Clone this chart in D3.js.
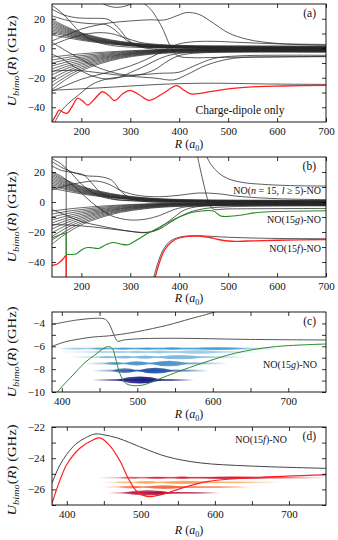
<!DOCTYPE html>
<html><head><meta charset="utf-8">
<script src="https://cdn.jsdelivr.net/npm/d3@7"></script>
<style>body{margin:0;background:#fff}svg{display:block}</style>
</head><body>
<svg id="chart" width="338" height="540"></svg>
<script>
// ================= DATA =================
const xTicksAB = [200,300,400,500,600,700];
const yTicksAB = [-40,-30,-20,-10,0,10,20];
const yLabelsAB = [-40,-20,0,20];
const xTicksCD = [400,450,500,550,600,650,700];
const xLabelsCD = [400,500,600,700];
const yTicksC = [-10,-9,-8,-7,-6,-5,-4];
const yLabelsC = [-10,-8,-6,-4];
const yTicksD = [-27,-26,-25,-24,-23,-22];
const yLabelsD = [-26,-24,-22];

// shared R grid for the converging bundles
const bundleR = [140,170,200,240,280,330,380,450,550,700];
const bundleUpper = [
 [19.5,14.5,10.5,7,4.6,2.8,1.9,1.4,1.2,1.1],
 [18.5,13.8,10,6.6,4.3,2.6,1.7,1.2,1.0,0.9],
 [17.5,13.1,9.5,6.2,4.0,2.4,1.5,1.0,0.8,0.7],
 [16.5,12.4,9,5.8,3.7,2.2,1.3,0.85,0.65,0.55],
 [15.5,11.7,8.5,5.5,3.4,2.0,1.15,0.7,0.5,0.4],
 [14.5,11,8,5.2,3.2,1.8,1.0,0.55,0.35,0.25],
 [13.5,10.3,7.5,4.9,3.0,1.6,0.85,0.4,0.2,0.1],
 [12.5,9.6,7,4.6,2.8,1.45,0.7,0.3,0.1,0],
 [11.5,8.9,6.5,4.3,2.6,1.3,0.6,0.2,0,-0.1],
 [10.5,8.2,6,4,2.4,1.15,0.5,0.1,-0.1,-0.2],
 [9,7.2,5.4,3.6,2.2,1.0,0.4,0,-0.2,-0.3]
];
const bundleLower = [
 [-6,-4.8,-3.8,-2.8,-2.0,-1.3,-0.9,-0.6,-0.5,-0.45],
 [-8,-6.3,-5,-3.6,-2.5,-1.6,-1.1,-0.8,-0.7,-0.6],
 [-10,-7.8,-6.1,-4.4,-3.0,-1.9,-1.3,-1.0,-0.85,-0.8],
 [-12,-9.3,-7.2,-5.1,-3.5,-2.2,-1.5,-1.15,-1.0,-0.95],
 [-14,-10.8,-8.3,-5.8,-4.0,-2.5,-1.7,-1.3,-1.15,-1.1],
 [-16,-12.3,-9.4,-6.5,-4.4,-2.8,-1.9,-1.45,-1.3,-1.25],
 [-18,-13.8,-10.5,-7.2,-4.8,-3.1,-2.1,-1.6,-1.45,-1.4],
 [-20.5,-15.5,-11.6,-7.9,-5.3,-3.4,-2.3,-1.8,-1.6,-1.55],
 [-23,-17.2,-12.8,-8.7,-5.8,-3.7,-2.6,-2.0,-1.8,-1.75],
 [-25.5,-19,-14,-9.5,-6.3,-4.1,-2.9,-2.3,-2.1,-2.0],
 [-28,-20.8,-15.2,-10.3,-6.9,-4.5,-3.2,-2.6,-2.4,-2.3]
];

const specialsA = [
 [[140,5],[170,9],[200,13],[230,15.5],[260,17.3],[300,18.5],[340,19.3],[370,19.2],[395,22],[415,24.2],[440,23],[470,17],[500,10.5],[540,6],[600,3.3],[700,2]],
 [[140,29],[160,24],[180,17],[200,10],[230,4.5],[260,2],[300,0.8],[400,0.2],[700,0]],
 [[140,22],[170,19],[200,17.2],[230,16.5],[250,16],[270,12],[290,6],[310,2.2],[340,0.6],[400,0.1],[700,-0.1]],
 [[140,26.5],[165,22.5],[195,20.5],[225,20.3],[255,19.5],[275,14],[295,6],[315,1.5],[350,-0.6],[420,-1.2],[700,-1.4]],
 [[240,31],[252,29],[270,27.7],[288,28.4],[302,30],[310,31]],
 [[325,31],[340,27],[355,20],[368,12],[378,4],[388,-2.5],[400,-5.5],[425,-6.4],[480,-6.2],[600,-5.8],[700,-5.7]],
 [[140,4],[170,-2],[200,-7.5],[230,-12.5],[260,-16],[290,-18],[320,-17.8],[350,-14.5],[375,-9],[400,-5],[440,-3.2],[700,-2.8]],
 [[140,-4],[165,-8],[190,-13.5],[220,-18.5],[250,-20.8],[275,-20],[300,-16.5],[330,-12],[360,-7],[390,-4],[450,-2.6],[700,-2.2]],
 [[140,-29],[170,-25],[200,-21],[240,-17.5],[270,-15],[300,-12],[330,-8],[355,-4],[375,-0.5],[395,2.5],[425,4.3],[470,4.7],[520,4],[600,3],[700,2.6]],
 [[140,-15.5],[190,-15],[240,-16.8],[300,-19],[350,-20.2],[388,-21.5],[415,-18],[456,-11.4],[511,-6.8],[600,-5.9],[700,-5.6]],
 [[146,-50],[160,-42],[175,-37],[195,-31.5],[222,-24.5],[250,-21],[280,-19.5],[320,-18],[360,-17],[400,-16.2],[430,-12],[470,-7],[520,-5.2],[700,-4.8]],
 [[140,-28.5],[170,-28],[200,-27.5],[240,-26.8],[280,-26],[320,-25.2],[360,-24.5],[400,-24],[450,-23.7],[500,-23.8],[600,-24.3],[700,-24.5]],
 [[140,2],[170,6],[200,9],[230,10.5],[260,10],[290,7],[320,4],[360,2.5],[420,1.8],[550,1.6],[700,1.5]]
];
const redA = [[140,-50],[148,-45.5],[155,-42],[163,-43.5],[171,-44],[182,-39],[192,-34],[202,-35.5],[213,-38.5],[228,-34],[243,-29.5],[256,-32],[268,-35.5],[284,-31],[299,-28.5],[318,-31.5],[338,-35.3],[365,-31],[395,-25.4],[410,-28.5],[424,-31],[450,-30.2],[480,-28.5],[510,-27.2],[560,-26],[613,-25.6],[700,-25.1]];

const specialsB = [
 [[140,8],[170,11],[200,13],[230,14],[255,12],[285,7],[320,4.2],[360,3.5],[400,4.5],[440,6],[480,5.5],[520,3.8],[600,2.2],[700,1.6]],
 [[140,27],[160,23],[185,19.5],[210,17.5],[240,16.8],[262,14.5],[280,7.5],[300,2.5],[330,0.3],[400,-0.4],[700,-0.8]],
 [[140,29],[160,25],[180,19],[200,12],[230,5],[260,2],[300,1],[700,0.3]],
 [[140,24],[160,21],[185,19.5],[205,18],[220,13],[240,6],[260,2.5],[300,0.8],[700,0]],
 [[140,-5],[170,-9],[200,-13],[240,-16],[280,-18.5],[310,-20],[340,-20],[360,-18],[380,-14],[400,-10],[420,-7],[450,-4.5],[500,-3.2],[700,-2.6]],
 [[140,-15],[180,-15.5],[220,-16.5],[260,-18],[300,-19.5],[330,-20.5],[350,-19],[370,-15],[390,-10],[410,-5.5],[440,-3],[700,-2.2]],
 [[140,20],[160,17],[180,12],[200,6],[220,0],[240,-5],[260,-9],[280,-11],[300,-12],[330,-11.5],[360,-9],[390,-5],[420,-3],[700,-1.8]],
 [[437,31],[443,22],[450,12],[457,3],[463,-2.5],[470,-4.8],[500,-4.6],[700,-4.3]],
 [[455,31],[465,25],[480,19.5],[500,15.5],[530,13],[570,11.8],[620,11],[700,10.6]],
 [[169,30],[169,-50]],
 [[348,-50],[357,-40],[367,-32],[382,-26],[400,-23.5],[420,-22.6],[435,-22.4],[460,-22.8],[500,-23.5],[550,-24],[600,-24.3],[700,-24.5]]
];
const greenB = [
 [[140,-24],[155,-22],[169,-20.5]],
 [[169,-20.5],[169,-35]],
 [[169,-35],[180,-35],[190,-34.5],[200,-32],[210,-30.5],[222,-30.5],[235,-31],[250,-28.5],[265,-27],[280,-28],[295,-28.5],[310,-26],[330,-22],[350,-18.5],[375,-14],[400,-10],[425,-7],[450,-5.8],[470,-6],[485,-9.3],[500,-9.6],[525,-8.8],[560,-7],[600,-6.3],[700,-5.8]]
];
const redB = [
 [[140,-42.2],[150,-41.5],[158,-39.5],[165,-37],[169,-35.5]],
 [[169,-35.5],[169,-50]],
 [[351,-50],[360,-40],[370,-32],[385,-26.5],[400,-24],[420,-22.9],[440,-22.7],[460,-23.5],[480,-25],[500,-26],[515,-26.3],[540,-26],[600,-25.5],[700,-25]]
];

const grayC = [
 [[387,-4.1],[420,-3.7],[450,-3.55],[458,-3.65],[464,-4.2],[469,-5.0],[474,-5.55],[482,-5.45],[500,-5.35],[550,-5.3],[650,-5.4],[750,-5.45]],
 [[387,-6.0],[405,-5.6],[420,-5.4],[440,-5.2],[460,-5.1],[473,-5.0],[500,-4.72],[540,-4.15],[570,-3.6],[600,-3.05],[606,-2.9]]
];
const greenC = [[390,-10.3],[402,-9.4],[415,-8.5],[431,-7.4],[445,-6.7],[455,-6.2],[462,-6.02],[467,-6.2],[471,-7.0],[477,-8.4],[484,-9.2],[492,-9.42],[500,-9.45],[510,-9.35],[520,-9.1],[535,-8.7],[555,-8.2],[585,-7.5],[630,-6.6],[680,-6.05],[750,-5.8]];
const energiesC = [-8.95,-8.13,-7.5,-6.95,-6.5,-6.2];
const spansC = [[440,575],[440,595],[428,620],[410,645],[400,665],[390,690]];
const lobesC = [
 [[472,534,0.3]],
 [[466,500,0.2],[500,548,0.26]],
 [[455,482,0.13],[482,516,0.18],[516,568,0.24]],
 [[448,470,0.09],[470,495,0.12],[495,525,0.15],[525,588,0.19]],
 [[442,464,0.07],[464,488,0.09],[488,513,0.11],[513,546,0.13],[546,615,0.17]],
 [[398,432,0.08],[438,462,0.08],[468,494,0.08],[500,526,0.08],[532,562,0.09],[570,645,0.12]]
];
const colorsC = ["#1c1a85","#2355a6","#4a8fcb","#7db7de","#9ccbe6","#3d9bd2"];

const blackD = [[380,-25.6],[390,-24.5],[400,-23.75],[412,-23.1],[425,-22.7],[438,-22.45],[450,-22.5],[468,-22.7],[485,-23.0],[503,-23.35],[535,-23.9],[580,-24.3],[647,-24.5],[750,-24.65]];
const redD = [[380,-26.9],[390,-25.5],[400,-24.4],[418,-23.35],[436,-22.82],[445,-22.7],[458,-23.2],[472,-24.2],[483,-25.3],[494,-26.1],[508,-26.45],[526,-26.35],[553,-25.95],[589,-25.5],[652,-25.25],[750,-25.07]];
const energiesD = [-26.22,-25.85,-25.55,-25.25];
const spansD = [[455,607],[448,650],[445,690],[440,750]];
const lobesD = [
 [[472,545,0.17]],
 [[468,503,0.09],[503,560,0.12]],
 [[462,490,0.07],[490,524,0.09],[524,592,0.11]],
 [[470,500,0.06],[505,538,0.06],[544,568,0.07],[578,680,0.08]]
];
const colorsD = ["#b0103c","#f26a3e","#f9a552","#d51f36"];

// ================= DRAWING =================
const svg = d3.select("#chart");
const FONT = "'Liberation Serif','Times New Roman',serif";
const L = 52, RGT = 326;
const defs = svg.append("defs");
const fmt = v => (v < 0 ? "\u2212" + Math.abs(v) : "" + v);

function makePanel(o) {
  const x = d3.scaleLinear().domain(o.xd).range([L, RGT]);
  const y = d3.scaleLinear().domain(o.yd).range([o.bottom, o.top]);
  const g = svg.append("g");
  defs.append("clipPath").attr("id", "clip" + o.id).append("rect")
    .attr("x", L).attr("y", o.top).attr("width", RGT - L).attr("height", o.bottom - o.top);
  const plot = g.append("g").attr("clip-path", "url(#clip" + o.id + ")");
  const line = d3.line().x(d => x(d[0])).y(d => y(d[1])).curve(d3.curveCatmullRom.alpha(0.5));

  const fx = v => o.xLabels.includes(v) ? fmt(v) : "";
  const fy = v => o.yLabels.includes(v) ? fmt(v) : "";
  const styleAxis = a => {
    a.select(".domain").remove();
    a.selectAll("line").attr("stroke", "#000").attr("stroke-width", 0.8);
    a.selectAll("text").attr("font-family", FONT).attr("font-size", 11).attr("fill", "#111");
  };
  g.append("g").attr("transform", `translate(0,${o.bottom})`)
    .call(d3.axisBottom(x).tickValues(o.xTicks).tickSize(-4).tickSizeOuter(0).tickPadding(5).tickFormat(fx)).call(styleAxis);
  g.append("g").attr("transform", `translate(0,${o.top})`)
    .call(d3.axisTop(x).tickValues(o.xTicks).tickSize(-4).tickSizeOuter(0).tickFormat("")).call(styleAxis);
  g.append("g").attr("transform", `translate(${L},0)`)
    .call(d3.axisLeft(y).tickValues(o.yTicks).tickSize(-4).tickSizeOuter(0).tickPadding(7).tickFormat(fy)).call(styleAxis);
  g.append("g").attr("transform", `translate(${RGT},0)`)
    .call(d3.axisRight(y).tickValues(o.yTicks).tickSize(-4).tickSizeOuter(0).tickFormat("")).call(styleAxis);

  const xl = g.append("text").attr("x", (L + RGT) / 2).attr("y", o.xlabY)
    .attr("text-anchor", "middle").attr("font-family", FONT).attr("font-size", 12).attr("fill", "#111");
  xl.append("tspan").attr("font-style", "italic").text("R");
  xl.append("tspan").text(" (");
  xl.append("tspan").attr("font-style", "italic").text("a");
  xl.append("tspan").attr("font-size", 8).attr("dy", 2.5).text("0");
  xl.append("tspan").attr("dy", -2.5).text(")");

  const cy = (o.top + o.bottom) / 2 + o.ylabShift;
  const yl = g.append("text").attr("transform", `translate(16,${cy}) rotate(-90) scale(1.22,1)`)
    .attr("text-anchor", "middle").attr("font-family", FONT).attr("font-size", 12).attr("fill", "#111");
  yl.append("tspan").attr("font-style", "italic").text("U");
  yl.append("tspan").attr("font-style", "italic").attr("font-size", 8.5).attr("dy", 3).text("bimo");
  yl.append("tspan").attr("dy", -3).text("(");
  yl.append("tspan").attr("font-style", "italic").text("R");
  yl.append("tspan").text(") (GHz)");

  g.append("rect").attr("x", L).attr("y", o.top).attr("width", RGT - L).attr("height", o.bottom - o.top)
    .attr("fill", "none").attr("stroke", "#000").attr("stroke-width", 0.9);

  g.append("text").attr("x", 316).attr("y", o.top + 13).attr("text-anchor", "end")
    .attr("font-family", FONT).attr("font-size", 11.5).attr("fill", "#111").text("(" + o.id + ")");
  return {x, y, plot, line, g};
}

function drawStates(P, id, energies, spans, lobes, colors, stripH) {
  energies.forEach((E, i) => {
    const gid = "grad" + id + i;
    const gr = defs.append("linearGradient").attr("id", gid).attr("gradientUnits", "userSpaceOnUse")
      .attr("x1", P.x(spans[i][0])).attr("x2", P.x(spans[i][1])).attr("y1", 0).attr("y2", 0);
    [[0,0],[0.22,0.7],[0.5,0.95],[0.78,0.75],[1,0]].forEach(s =>
      gr.append("stop").attr("offset", s[0]).attr("stop-color", colors[i]).attr("stop-opacity", s[1]));
    P.plot.append("rect").attr("x", P.x(spans[i][0])).attr("width", P.x(spans[i][1]) - P.x(spans[i][0]))
      .attr("y", P.y(E) - stripH / 2).attr("height", stripH).attr("fill", `url(#${gid})`);
    lobes[i].forEach(lb => {
      const a = P.x(lb[0]), b = P.x(lb[1]), m = (a + b) / 2;
      const y0 = P.y(E), up = P.y(E + 2 * lb[2]), dn = P.y(E - 2 * lb[2]);
      P.plot.append("path")
        .attr("d", `M${a},${y0}Q${m},${up} ${b},${y0}Q${m},${dn} ${a},${y0}Z`)
        .attr("fill", `url(#${gid})`);
    });
  });
}

const BLACK = "#262626";
const drawSet = (P, set, w) => set.forEach(c => P.plot.append("path").attr("d", P.line(c))
  .attr("fill","none").attr("stroke",BLACK).attr("stroke-width",w));

// ---- Panel (a)
const A = makePanel({id:"a", top:4, bottom:122, xd:[140,700], yd:[-50,30],
  xTicks:xTicksAB, xLabels:xTicksAB, yTicks:yTicksAB, yLabels:yLabelsAB, xlabY:148, ylabShift:-2});
const bundles = bundleUpper.concat(bundleLower).map(row => row.map((v, k) => [bundleR[k], v]));
drawSet(A, bundles, 0.7);
drawSet(A, specialsA, 0.75);
A.plot.append("path").attr("d", A.line(redA)).attr("fill","none").attr("stroke","#ff2020").attr("stroke-width",1.3);
A.g.append("text").attr("x", 240).attr("y", 114).attr("text-anchor","middle").attr("font-family",FONT)
  .attr("font-size", 11.5).attr("fill","#111").text("Charge-dipole only");

// ---- Panel (b)
const B = makePanel({id:"b", top:157, bottom:277, xd:[140,700], yd:[-50,30],
  xTicks:xTicksAB, xLabels:xTicksAB, yTicks:yTicksAB, yLabels:yLabelsAB, xlabY:302, ylabShift:0});
drawSet(B, bundles, 0.7);
drawSet(B, specialsB, 0.75);
greenB.forEach(c => B.plot.append("path").attr("d", B.line(c)).attr("fill","none").attr("stroke","#228b22").attr("stroke-width",1.1));
redB.forEach(c => B.plot.append("path").attr("d", B.line(c)).attr("fill","none").attr("stroke","#ff2020").attr("stroke-width",1.3));
function noLabel(P, xr, yb, parts) {
  const t = P.g.append("text").attr("x", xr).attr("y", yb).attr("text-anchor","end")
    .attr("font-family",FONT).attr("font-size",10).attr("fill","#111");
  parts.forEach(p => { const s = t.append("tspan").text(p[0]); if (p[1]) s.attr("font-style","italic"); });
}
noLabel(B, 321, 194, [["NO("],["n",1],[" = 15, "],["l",1],[" \u2265 5)-NO"]]);
noLabel(B, 321, 223, [["NO(15"],["g",1],[")-NO"]]);
noLabel(B, 321, 252, [["NO(15"],["f",1],[")-NO"]]);

// ---- Panel (c)
const C = makePanel({id:"c", top:312, bottom:392, xd:[387,750], yd:[-10,-3],
  xTicks:xTicksCD, xLabels:xLabelsCD, yTicks:yTicksC, yLabels:yLabelsC, xlabY:418, ylabShift:0});
drawStates(C, "c", energiesC, spansC, lobesC, colorsC, 1.8);
grayC.forEach(c => C.plot.append("path").attr("d", C.line(c)).attr("fill","none").attr("stroke","#555").attr("stroke-width",1));
C.plot.append("path").attr("d", C.line(greenC)).attr("fill","none").attr("stroke","#2e8b2e").attr("stroke-width",1);
noLabel(C, 317, 368, [["NO(15"],["g",1],[")-NO"]]);

// ---- Panel (d)
const D = makePanel({id:"d", top:427, bottom:505, xd:[380,750], yd:[-27,-22],
  xTicks:xTicksCD, xLabels:xLabelsCD, yTicks:yTicksD, yLabels:yLabelsD, xlabY:534, ylabShift:4});
drawStates(D, "d", energiesD, spansD, lobesD, colorsD, 1.6);
D.plot.append("path").attr("d", D.line(blackD)).attr("fill","none").attr("stroke","#444").attr("stroke-width",1);
D.plot.append("path").attr("d", D.line(redD)).attr("fill","none").attr("stroke","#ff2020").attr("stroke-width",1.2);
noLabel(D, 287, 443, [["NO(15"],["f",1],[")-NO"]]);
</script>
</body></html>
